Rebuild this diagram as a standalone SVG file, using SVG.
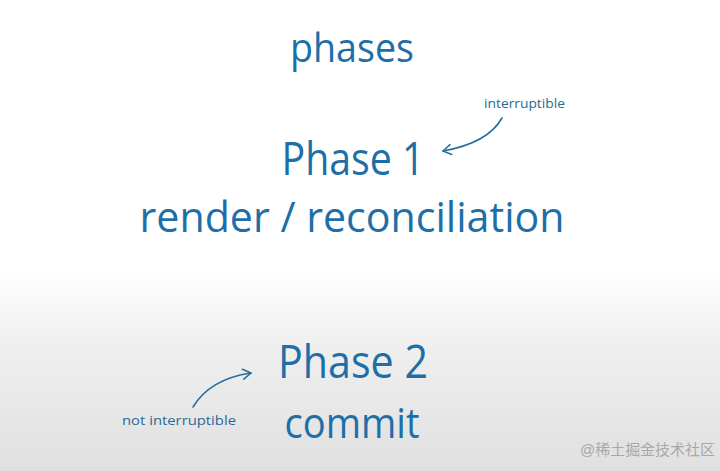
<svg xmlns="http://www.w3.org/2000/svg" width="720" height="471" viewBox="0 0 720 471">
<defs>
<linearGradient id="bg" x1="0" y1="0" x2="0" y2="1">
<stop offset="0" stop-color="#ffffff"/>
<stop offset="0.58" stop-color="#ffffff"/>
<stop offset="0.72" stop-color="#f0f0f0"/>
<stop offset="1" stop-color="#e0e0e0"/>
</linearGradient>
<marker id="ah" markerWidth="12" markerHeight="12" refX="10" refY="6" orient="auto" markerUnits="userSpaceOnUse">
<path d="M2,1 L10,6 L2,11" fill="none" stroke="#2a6f9e" stroke-width="1.6" stroke-linecap="round" stroke-linejoin="round"/>
</marker>
</defs>
<style>
.t{font-family:"Open Sans","Liberation Sans",sans-serif;fill:#1e6ea8;text-anchor:middle}
.s{font-family:"Open Sans","Liberation Sans",sans-serif;fill:#2a6a96;font-size:13px}
.c{fill:none;stroke:#2a6f9e;stroke-width:1.6;stroke-linecap:round}
</style>
<rect width="720" height="471" fill="url(#bg)"/>
<g id="title"><text class="t" x="352" y="62" font-size="40" textLength="124" lengthAdjust="spacingAndGlyphs">phases</text></g>
<g id="phase1">
<text class="t" x="353" y="175" font-size="46" textLength="143" lengthAdjust="spacingAndGlyphs">Phase 1</text>
<text class="t" x="352" y="232" font-size="42" textLength="425" lengthAdjust="spacingAndGlyphs">render / reconciliation</text>
</g>
<g id="note1"><text class="s" x="484" y="108" textLength="81" lengthAdjust="spacingAndGlyphs">interruptible</text></g>
<g id="phase2">
<text class="t" x="353" y="378" font-size="46" textLength="150" lengthAdjust="spacingAndGlyphs">Phase 2</text>
<text class="t" x="352" y="438" font-size="42" textLength="135" lengthAdjust="spacingAndGlyphs">commit</text>
</g>
<g id="note2"><text class="s" x="122" y="425" textLength="114" lengthAdjust="spacingAndGlyphs">not interruptible</text></g>
<g id="connectors">
<path class="c" d="M502,118 Q488,143 443,151" marker-end="url(#ah)"/>
<path class="c" d="M193,407 Q210,379 251,373" marker-end="url(#ah)"/>
</g>
<text x="580" y="455" font-family="'Liberation Sans','Noto Sans CJK SC',sans-serif" font-size="15" fill="#a8a8a8" textLength="135" lengthAdjust="spacingAndGlyphs">@稀土掘金技术社区</text>
</svg>
